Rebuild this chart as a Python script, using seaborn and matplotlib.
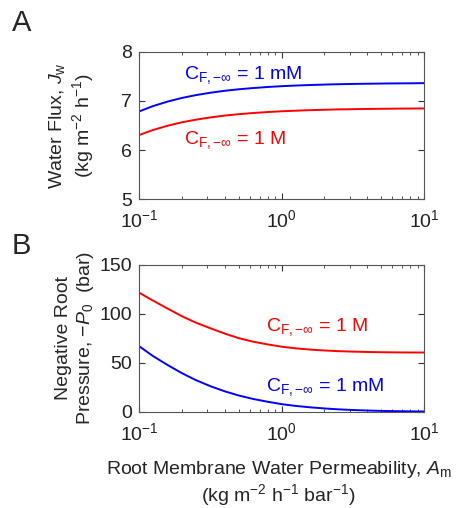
import numpy as np
import pandas as pd
import matplotlib
matplotlib.use('Agg')
import matplotlib.pyplot as plt
import seaborn as sns

# permeability values (x, log scale)
perm = [0.1, 0.125, 0.16, 0.2, 0.25, 0.32, 0.4, 0.5, 0.63, 0.8, 1,
        1.25, 1.6, 2, 2.5, 3.2, 4, 5, 6.3, 8, 10]

# panel A: water flux
flux_mM = [6.785, 6.894, 6.99, 7.061, 7.118, 7.169, 7.207, 7.237, 7.262, 7.284, 7.30,
           7.313, 7.324, 7.333, 7.34, 7.346, 7.35, 7.354, 7.357, 7.359, 7.362]
flux_M = [6.305, 6.407, 6.498, 6.565, 6.618, 6.666, 6.702, 6.73, 6.754, 6.774, 6.789,
          6.801, 6.812, 6.82, 6.827, 6.832, 6.836, 6.84, 6.843, 6.845, 6.847]

# panel B: negative root pressure
press_M = [121.5, 113.5, 105, 97.5, 91, 85, 79.8, 75.2, 71.6, 68.8, 66.5,
           64.8, 63.5, 62.6, 61.95, 61.45, 61.1, 60.85, 60.7, 60.6, 60.55]
press_mM = [67, 57, 47.5, 39.5, 32.5, 26, 21, 16.8, 13.3, 10.4, 8.0,
            6.2, 4.7, 3.6, 2.7, 2.0, 1.5, 1.1, 0.85, 0.65, 0.5]

sns.set_style('ticks')
plt.rcParams['font.family'] = ['Liberation Sans', 'DejaVu Sans']
plt.rcParams['mathtext.fontset'] = 'custom'
plt.rcParams['mathtext.rm'] = 'Liberation Sans'
plt.rcParams['mathtext.it'] = 'Liberation Sans:italic'
plt.rcParams['mathtext.bf'] = 'Liberation Sans:bold'

colors = {'1 mM': 'blue', '1 M': 'red'}

dfA = pd.DataFrame({'A': perm * 2, 'J': flux_mM + flux_M,
                    'C': ['1 mM'] * len(perm) + ['1 M'] * len(perm)})
dfB = pd.DataFrame({'A': perm * 2, 'P': press_mM + press_M,
                    'C': ['1 mM'] * len(perm) + ['1 M'] * len(perm)})

fig = plt.figure(figsize=(4.59, 5.08), dpi=100)
axA = fig.add_axes([0.303, 0.608, 0.621, 0.290])
axB = fig.add_axes([0.303, 0.189, 0.621, 0.290])

sns.lineplot(data=dfA, x='A', y='J', hue='C', palette=colors, legend=False, ax=axA, linewidth=1.4)
sns.lineplot(data=dfB, x='A', y='P', hue='C', palette=colors, legend=False, ax=axB, linewidth=1.4)

for ax in (axA, axB):
    ax.set_xscale('log')
    ax.set_xlim(0.1, 10)
    ax.tick_params(which='both', direction='in', top=True, right=True, colors='#333333',
                   labelcolor='#222222', labelsize=14)
    ax.tick_params(which='major', length=4)
    ax.tick_params(which='minor', length=2)
    ax.tick_params(axis='x', which='major', pad=7)
    ax.tick_params(axis='y', which='major', pad=5)
    for s in ax.spines.values():
        s.set_color('#555555')
        s.set_linewidth(0.8)

axA.set_ylim(5, 8)
axA.set_yticks([5, 6, 7, 8])
axB.set_ylim(0, 150)
axB.set_yticks([0, 50, 100, 150])

axA.set_xlabel('')
axA.set_ylabel('Water Flux, $J_\\mathrm{w}$\n(kg m$^{-2}$ h$^{-1}$)', fontsize=14, linespacing=1.2)
axB.set_ylabel('Negative Root\nPressure, \u2212$P_0$  (bar)', fontsize=14, linespacing=1.2)
axA.yaxis.set_label_coords(-0.15, 0.5)
axB.yaxis.set_label_coords(-0.15, 0.5)
axB.set_xlabel('Root Membrane Water Permeability, $A_\\mathrm{m}$\n(kg m$^{-2}$ h$^{-1}$ bar$^{-1}$)',
               fontsize=14, linespacing=1.1)
axB.xaxis.set_label_coords(0.49, -0.32)

lab = 'C$_{\\mathrm{F,{-}\\infty}}$ = 1 '
axA.text(0.205, 7.53, lab + 'mM', color='blue', fontsize=14, va='center')
axA.text(0.205, 6.2, lab + 'M', color='red', fontsize=14, va='center')
axB.text(0.78, 86, lab + 'M', color='red', fontsize=14, va='center')
axB.text(0.78, 25, lab + 'mM', color='blue', fontsize=14, va='center')

fig.text(0.025, 0.955, 'A', fontsize=21, va='center')
fig.text(0.025, 0.515, 'B', fontsize=21, va='center')

fig.savefig('out.png', dpi=100)
